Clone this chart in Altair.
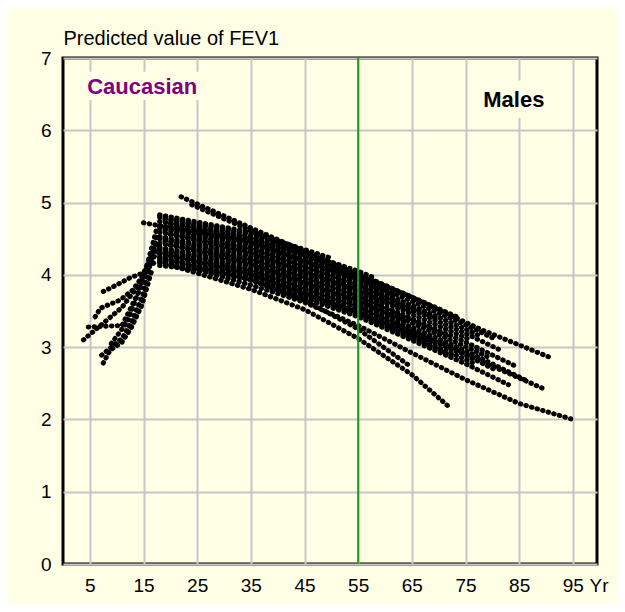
import altair as alt
import pandas as pd

# ---- data ----
# adult trajectories: dotted polylines (ages, predicted FEV1)
adult_ages = [
    [22, 35, 55, 65, 78, 91],
    [24, 40, 60],
    [15, 18, 35, 55],
    [18, 35, 50],
    [18, 35, 55, 58],
    [19, 35, 55, 74],
    [18, 35, 55, 68],
    [20, 35, 55, 75, 80],
    [18, 35, 55, 62],
    [18, 35, 55, 75, 78],
    [19, 35, 55, 70],
    [18, 35, 55, 75, 82],
    [20, 35, 55, 66],
    [18, 35, 55, 75, 76],
    [18, 35, 55, 60],
    [19, 35, 55, 75, 84],
    [18, 35, 55, 72],
    [20, 35, 55, 75, 79],
    [18, 35, 55, 64],
    [18, 35, 55, 75, 86],
    [19, 35, 55, 75],
    [18, 35, 55, 75, 81],
    [20, 35, 55, 69],
    [18, 35, 55, 75, 77],
    [18, 35, 55, 73],
    [18, 35, 55, 75, 83],
    [18, 25, 35, 45, 55, 65, 75, 85, 95],
    [18, 35, 45, 55, 65, 72],
    [18, 35, 45, 55, 65],
    [18, 35, 55, 75, 90],
]
adult_vals = [
    [5.08, 4.65, 4.00, 3.69, 3.24, 2.85],
    [4.97, 4.45, 3.82],
    [4.72, 4.68, 4.45, 3.92],
    [4.83, 4.59, 4.23],
    [4.80, 4.56, 4.05, 3.96],
    [4.77, 4.53, 4.02, 3.40],
    [4.74, 4.50, 3.99, 3.58],
    [4.71, 4.47, 3.96, 3.31, 3.13],
    [4.68, 4.44, 3.93, 3.71],
    [4.65, 4.41, 3.90, 3.25, 3.14],
    [4.62, 4.38, 3.87, 3.39],
    [4.59, 4.35, 3.84, 3.19, 2.94],
    [4.56, 4.32, 3.81, 3.47],
    [4.53, 4.29, 3.78, 3.13, 3.09],
    [4.50, 4.26, 3.75, 3.59],
    [4.47, 4.23, 3.72, 3.07, 2.75],
    [4.44, 4.20, 3.69, 3.14],
    [4.41, 4.17, 3.66, 3.01, 2.87],
    [4.38, 4.14, 3.63, 3.35],
    [4.35, 4.11, 3.60, 2.95, 2.55],
    [4.32, 4.08, 3.57, 2.92],
    [4.29, 4.05, 3.54, 2.89, 2.67],
    [4.26, 4.02, 3.51, 3.07],
    [4.23, 3.99, 3.48, 2.83, 2.76],
    [4.20, 3.96, 3.45, 2.87],
    [4.17, 3.93, 3.42, 2.77, 2.48],
    [4.13, 4.07, 3.86, 3.62, 3.30, 2.92, 2.55, 2.22, 2.00],
    [4.18, 3.80, 3.52, 3.12, 2.62, 2.17],
    [4.25, 3.93, 3.65, 3.25, 2.72],
    [4.30, 4.02, 3.48, 2.90, 2.41],
]

# children trajectories: dotted polylines
child_ages = [
    [3.8, 7, 11, 14, 17.5],
    [4.7, 11, 14, 17],
    [6, 7, 10.6, 13, 16, 18],
    [7.5, 10, 12.5, 14.7, 17.5],
    [7.2, 9, 11, 12.8, 15, 17.5],
    [7.5, 8.8, 11, 12.8, 14.7, 16.5],
    [9, 12, 15, 17.5],
]
child_vals = [
    [3.10, 3.30, 3.55, 3.85, 4.45],
    [3.28, 3.30, 3.75, 4.35],
    [3.42, 3.54, 3.65, 3.79, 4.10, 4.40],
    [3.77, 3.86, 3.96, 4.02, 4.20],
    [2.89, 3.00, 3.12, 3.35, 3.75, 4.55],
    [2.78, 2.96, 3.07, 3.28, 3.58, 4.05],
    [3.05, 3.35, 3.95, 4.65],
]

x_ticks = [5, 15, 25, 35, 45, 55, 65, 75, 85, 95]
y_ticks = [0, 1, 2, 3, 4, 5, 6, 7]
marker_age = [55]

label_text = ["Caucasian", "Males"]
label_age = [4.5, 78.3]
label_val = [6.6, 6.42]
label_color = ["#800080", "#000000"]
# label background boxes (the labels hide the grid behind them)
box_age = [4.1, 77.6]
box_age2 = [25.7, 90.8]
box_val = [6.81, 6.69]
box_val2 = [6.42, 6.17]

# ---- build tables ----
rows = []
for i, (ages, vals) in enumerate(zip(adult_ages, adult_vals)):
    for j, (a, v) in enumerate(zip(ages, vals)):
        rows.append({"id": f"a{i}", "order": j, "age": a, "val": v})
for i, (ages, vals) in enumerate(zip(child_ages, child_vals)):
    for j, (a, v) in enumerate(zip(ages, vals)):
        rows.append({"id": f"c{i}", "order": j, "age": a, "val": v})
traj = pd.DataFrame(rows)

labels = pd.DataFrame({"label": label_text, "age": label_age, "val": label_val, "color": label_color})
boxes = pd.DataFrame({"age": box_age, "age2": box_age2, "val": box_val, "val2": box_val2})
marker = pd.DataFrame({"age": marker_age, "val": [0]})

BG = "#FFFFE6"
FONT = "Liberation Sans"

X = alt.X("age:Q",
          scale=alt.Scale(domain=[0, 99.5], nice=False, zero=False),
          axis=alt.Axis(values=x_ticks, grid=True, gridColor="#c6c6c6", gridWidth=2,
                        ticks=False, tickSize=0, domain=False,
                        labelFont=FONT, labelFontSize=19, labelColor="black", labelPadding=12,
                        labelBaseline="top", labelFlush=False,
                        title="Yr", titleFont=FONT, titleFontSize=19, titleFontWeight="normal",
                        titleColor="black", titleAngle=0, titleAlign="left", titleBaseline="top",
                        titleX=526, titleY=12))
Y = alt.Y("val:Q",
          scale=alt.Scale(domain=[0, 7], nice=False, zero=True),
          axis=alt.Axis(values=y_ticks, grid=True, gridColor="#c6c6c6", gridWidth=2,
                        ticks=False, tickSize=0, domain=False,
                        labelFont=FONT, labelFontSize=19, labelColor="black", labelPadding=12,
                        labelFlush=False,
                        title="Predicted value of FEV1", titleFont=FONT, titleFontSize=20,
                        titleFontWeight="normal", titleColor="black", titleAngle=0,
                        titleAlign="left", titleBaseline="alphabetic", titleX=0, titleY=-14))

box_layer = alt.Chart(boxes).mark_rect(fill=BG).encode(
    x=X, x2="age2:Q", y=Y, y2="val2:Q")

line_layer = alt.Chart(traj).mark_line(
    color="black", strokeWidth=5, strokeCap="round", strokeDash=[0.5, 5.3]
).encode(x=X, y=Y, detail="id:N", order="order:Q")

rule_layer = alt.Chart(marker).mark_rule(color="#1f9a1f", strokeWidth=2).encode(x=X)

text_layer = alt.Chart(labels).mark_text(
    font=FONT, fontSize=22, fontWeight="bold", align="left", baseline="middle"
).encode(x=X, y=Y, text="label:N", color=alt.Color("color:N", scale=None))

chart = alt.layer(box_layer, line_layer, rule_layer, text_layer).properties(
    width=534, height=506,
    padding={"left": 55, "top": 50, "right": 20, "bottom": 40},
    autosize=alt.AutoSizeParams(type="none"),
    background=BG,
).configure_view(
    fill=BG, stroke="black", strokeWidth=3
)

chart.save("out.html", embed_options={"renderer": "svg", "actions": False})
